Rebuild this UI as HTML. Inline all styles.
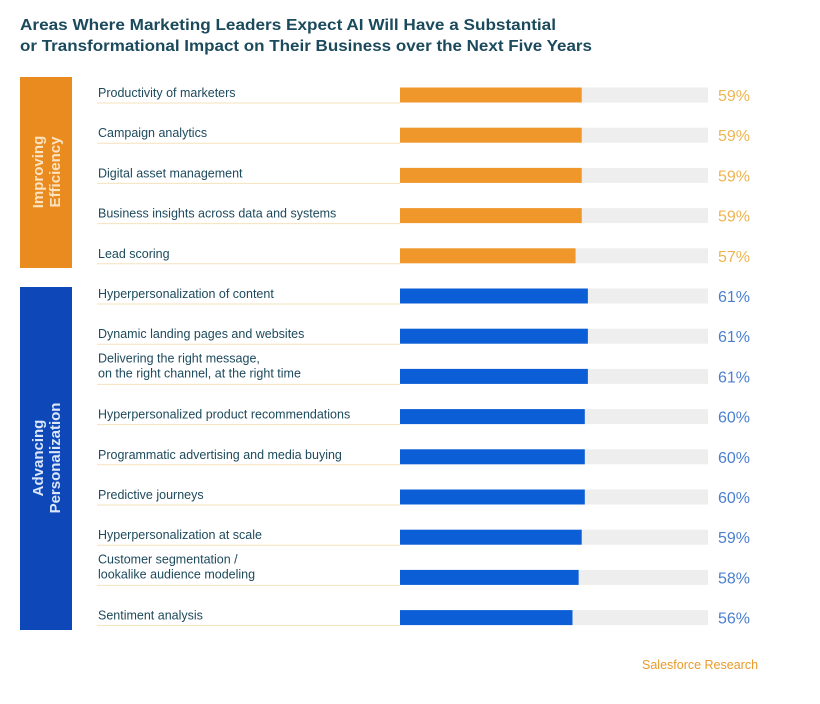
<!DOCTYPE html>
<html><head><meta charset="utf-8"><style>
html,body{margin:0;padding:0;background:#fff;}
svg{display:block;font-family:"Liberation Sans",sans-serif;}
</style></head><body>
<svg id="chart" width="820" height="704" viewBox="0 0 820 704" xmlns="http://www.w3.org/2000/svg">
<g fill="#1b4a5c" font-weight="bold" font-size="15.5">
<text x="20" y="30" textLength="536" lengthAdjust="spacingAndGlyphs">Areas Where Marketing Leaders Expect AI Will Have a Substantial</text>
<text x="20" y="51" textLength="572" lengthAdjust="spacingAndGlyphs">or Transformational Impact on Their Business over the Next Five Years</text>
</g>
<rect x="20" y="77" width="52" height="191" fill="#ea8b1f"/>
<text transform="translate(46,172) rotate(-90)" text-anchor="middle" fill="#fce3c0" font-weight="bold" font-size="15"><tspan x="0" dy="-3">Improving</tspan><tspan x="0" dy="17">Efficiency</tspan></text>
<rect x="20" y="287" width="52" height="343" fill="#0e48b8"/>
<text transform="translate(46,458) rotate(-90)" text-anchor="middle" fill="#dbe6fa" font-weight="bold" font-size="15"><tspan x="0" dy="-3">Advancing</tspan><tspan x="0" dy="17">Personalization</tspan></text>
<g id="rows"></g>
<text x="642" y="669" fill="#ea9a2a" font-size="12.5">Salesforce Research</text>
</svg>
<script>
const categories = [["Productivity of marketers"],["Campaign analytics"],["Digital asset management"],["Business insights across data and systems"],["Lead scoring"],["Hyperpersonalization of content"],["Dynamic landing pages and websites"],["Delivering the right message,","on the right channel, at the right time"],["Hyperpersonalized product recommendations"],["Programmatic advertising and media buying"],["Predictive journeys"],["Hyperpersonalization at scale"],["Customer segmentation /","lookalike audience modeling"],["Sentiment analysis"]];
const values = [59,59,59,59,57,61,61,61,60,60,60,59,58,56];
const groups = ["eff","eff","eff","eff","eff","per","per","per","per","per","per","per","per","per"];
const valueLabels = ["59%","59%","59%","59%","57%","61%","61%","61%","60%","60%","60%","59%","58%","56%"];

const NS="http://www.w3.org/2000/svg";
const g=document.getElementById('rows');
const x0=400, trackW=308;
const xScale=v=>trackW*v/100;
const yScale=i=>95+i*40.2;
function mk(tag,attrs){const e=document.createElementNS(NS,tag);for(const k in attrs)e.setAttribute(k,attrs[k]);return e;}
categories.forEach((lab,i)=>{
  const cy=yScale(i);
  const isEff=groups[i]==="eff";
  const line=mk('line',{x1:97,x2:400,y1:cy+8,y2:cy+8,stroke:'#f6e2bd','stroke-width':1});
  
  
  g.appendChild(line);
  const t=mk('text',{x:98,fill:'#1d4a5c','font-size':12.5});
  
  
  if(lab.length===1){t.setAttribute('y',cy+2);t.textContent=lab[0];}
  else{
    const a=mk('tspan',{x:98,y:cy-14});a.textContent=lab[0];
    const b=mk('tspan',{x:98,y:cy+1});b.textContent=lab[1];
    t.appendChild(a);t.appendChild(b);
  }
  g.appendChild(t);
  const tr=mk('rect',{x:x0,y:cy-7.5,width:trackW,height:15,fill:'#eeeeee'});
  
  
  g.appendChild(tr);
  const bar=mk('rect',{x:x0,y:cy-7.5,width:xScale(values[i]),height:15,fill:isEff?'#f0972c':'#0b5ed6'});
  
  
  g.appendChild(bar);
  const v=mk('text',{x:718,y:cy+6,fill:isEff?'#edb550':'#4b7fcf','font-size':16});
  
  
  v.textContent=valueLabels[i];
  g.appendChild(v);
});
</script>
</body></html>
